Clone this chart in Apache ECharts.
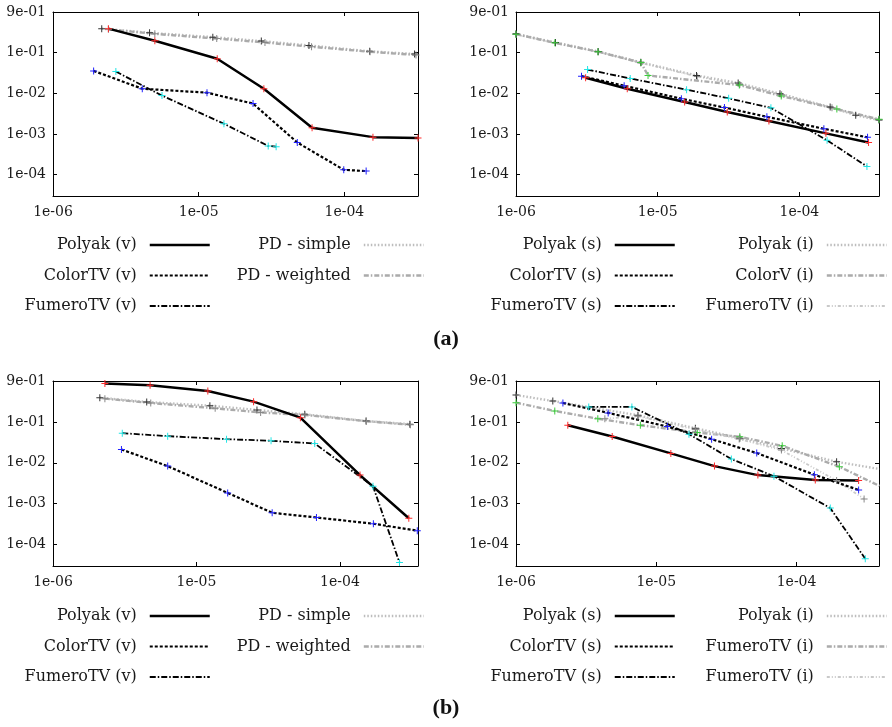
<!DOCTYPE html>
<html>
<head>
<meta charset="utf-8">
<title>convergence</title>
<script src="https://cdn.jsdelivr.net/npm/echarts@6/dist/echarts.min.js"></script>
<style>
  html, body { margin: 0; padding: 0; background: #fff; }
  #chart { width: 892px; height: 727px; }
</style>
</head>
<body>
<div id="chart"></div>
<script>
// (a) left panel
var aPolyakV = [[2.4e-6, 0.39], [5.0e-6, 0.196], [1.34e-5, 0.071], [2.8e-5, 0.013], [6.0e-5, 1.43e-3], [1.57e-4, 8.4e-4], [3.2e-4, 8.0e-4]];
var aColorV = [[1.9e-6, 0.0357], [4.1e-6, 0.013], [1.14e-5, 0.0104], [2.36e-5, 0.0056], [4.75e-5, 6.2e-4], [9.9e-5, 1.32e-4], [1.41e-4, 1.23e-4]];
var aFumeroV = [[2.7e-6, 0.0344], [5.6e-6, 8.8e-3], [1.49e-5, 1.79e-3], [3.0e-5, 5.1e-4], [3.4e-5, 4.9e-4]];
var aPdSimple = [[2.16e-6, 0.39], [4.6e-6, 0.308], [1.25e-5, 0.241], [2.69e-5, 0.193], [5.71e-5, 0.151], [1.49e-4, 0.108], [3.03e-4, 0.093]];
var aPdWeighted = [[2.4e-6, 0.375], [5.0e-6, 0.29], [1.33e-5, 0.222], [2.85e-5, 0.178], [5.95e-5, 0.14], [1.5e-4, 0.105], [3.1e-4, 0.088]];

// (a) right panel
var aPolyakS = [[3.1e-6, 0.0241], [6.1e-6, 0.013], [1.55e-5, 6.15e-3], [3.1e-5, 3.5e-3], [6.1e-5, 2.1e-3], [1.54e-4, 1.04e-3], [3.08e-4, 6.2e-4]];
var aColorS = [[2.9e-6, 0.0265], [5.8e-6, 0.0154], [1.47e-5, 7.4e-3], [2.96e-5, 4.5e-3], [5.9e-5, 2.65e-3], [1.49e-4, 1.35e-3], [3.03e-4, 8.3e-4]];
var aFumeroS = [[3.2e-6, 0.0385], [6.4e-6, 0.0232], [1.6e-5, 0.0123], [3.17e-5, 7.55e-3], [6.3e-5, 4.4e-3], [1.57e-4, 7.0e-4], [3.0e-4, 1.6e-4]];
var aPolyakI = [[1e-6, 0.29], [1.9e-6, 0.178], [3.8e-6, 0.107], [7.6e-6, 0.058], [1.88e-5, 0.0275], [3.7e-5, 0.018], [7.3e-5, 9.8e-3], [1.65e-4, 4.6e-3], [2.5e-4, 2.9e-3], [3.65e-4, 2.2e-3]];
var aColorVI = [[1e-6, 0.285], [1.88e-6, 0.175], [3.79e-6, 0.106], [7.62e-6, 0.057], [8.55e-6, 0.0275], [3.77e-5, 0.016], [7.45e-5, 8.6e-3], [1.84e-4, 4.1e-3], [3.65e-4, 2.3e-3]];
var aFumeroI = [[1e-6, 0.28], [1.9e-6, 0.172], [3.8e-6, 0.104], [7.6e-6, 0.056], [1.9e-5, 0.026], [3.8e-5, 0.0165], [7.5e-5, 9.2e-3], [1.7e-4, 4.4e-3], [3.65e-4, 2.25e-3]];

// (b) left panel
var bPolyakV = [[2.3e-6, 0.87], [4.75e-6, 0.79], [1.2e-5, 0.567], [2.5e-5, 0.313], [5.3e-5, 0.127], [1.38e-4, 5.0e-3], [3.02e-4, 4.4e-4]];
var bColorV = [[3.0e-6, 0.0212], [6.3e-6, 8.3e-3], [1.65e-5, 1.84e-3], [3.37e-5, 6.0e-4], [6.86e-5, 4.6e-4], [1.71e-4, 3.24e-4], [3.46e-4, 2.19e-4]];
var bFumeroV = [[3.04e-6, 0.053], [6.3e-6, 0.0448], [1.62e-5, 0.0379], [3.31e-5, 0.0345], [6.67e-5, 0.0297], [1.7e-4, 2.67e-3], [2.6e-4, 3.64e-5]];
var bPdSimple = [[2.12e-6, 0.391], [4.5e-6, 0.307], [1.24e-5, 0.249], [2.64e-5, 0.196], [5.68e-5, 0.154], [1.52e-4, 0.105], [3.07e-4, 0.088]];
var bPdWeighted = [[2.3e-6, 0.37], [4.8e-6, 0.29], [1.35e-5, 0.215], [2.8e-5, 0.17], [5.7e-5, 0.148], [1.53e-4, 0.104], [3.1e-4, 0.085]];

// (b) right panel
var bPolyakS = [[2.34e-6, 0.083], [4.85e-6, 0.044], [1.27e-5, 0.017], [2.6e-5, 8.3e-3], [5.3e-5, 5.0e-3], [1.36e-4, 3.8e-3], [2.77e-4, 3.67e-3]];
var bColorS = [[2.16e-6, 0.29], [4.54e-6, 0.166], [1.2e-5, 0.077], [2.48e-5, 0.0379], [5.2e-5, 0.0173], [1.34e-4, 5.1e-3], [2.77e-4, 2.17e-3]];
var bFumeroS = [[3.3e-6, 0.232], [6.7e-6, 0.232], [1.71e-5, 0.0501], [3.43e-5, 0.0124], [6.9e-5, 4.7e-3], [1.74e-4, 7.8e-4], [3.09e-4, 4.5e-5]];
var bPolyakI = [[1e-6, 0.454], [1.83e-6, 0.324], [7.4e-6, 0.145], [1.9e-5, 0.07], [3.94e-5, 0.04], [7.8e-5, 0.0225], [1.93e-4, 0.0106], [3.9e-4, 7.05e-3]];
var bFumeroI1 = [[1e-6, 0.295], [1.89e-6, 0.185], [3.83e-6, 0.12], [7.7e-6, 0.083], [1.96e-5, 0.055], [3.94e-5, 0.0431], [7.9e-5, 0.026], [2.02e-4, 8.0e-3], [3.9e-4, 2.72e-3]];
var bFumeroI2 = [[4.3e-6, 0.12], [7.4e-6, 0.137], [1.9e-5, 0.065], [3.9e-5, 0.038], [7.8e-5, 0.0205], [1.93e-4, 3.67e-3], [3.03e-4, 1.31e-3]];

var xMin = 1e-6;
var xMax = [3.2e-4, 3.65e-4, 3.5e-4, 3.87e-4];
var yMin = 3e-5;
var yMax = 1;

var grids = [
    {left: 53, top: 12, width: 365, height: 184},
    {left: 516, top: 12, width: 363, height: 184},
    {left: 53, top: 381, width: 365, height: 185},
    {left: 516, top: 381, width: 363, height: 185}
];

var plus = 'path://M3,0h1v3h3v1h-3v3h-1v-3h-3v-1h3z';
var font = 'DejaVu Serif';

var styles = {
    polyak:   {color: '#000', width: 2.5, dash: 'solid', mark: '#ff2a2a'},
    color:    {color: '#000', width: 2.2, dash: [3, 2], mark: '#2020ff'},
    fumero:   {color: '#000', width: 1.8, dash: [6, 2, 1.5, 2], mark: '#22e6e6'},
    pdSimple: {color: '#bdbdbd', width: 2.4, dash: [1.5, 2], mark: '#333'},
    pdWeight: {color: '#ababab', width: 2.4, dash: [5, 2, 1.5, 2], mark: '#888'},
    greenDd:  {color: '#ababab', width: 2.4, dash: [5, 2, 1.5, 2], mark: '#3ccc3c'},
    lightDd:  {color: '#c9c9c9', width: 1.8, dash: [3, 2, 1, 2, 1, 2], mark: '#8a8a8a'}
};

function expLabel(v) {
    var l = Math.log10(v);
    var e = Math.round(l);
    if (Math.abs(l - e) > 1e-6) return '';
    if (e === 0) return '9e-01';
    var n = Math.abs(e);
    return '1e' + (e < 0 ? '-' : '+') + (n < 10 ? '0' + n : n);
}

function line(label, tag, data, g, st) {
    return {
        name: label + '|' + tag,
        type: 'line',
        xAxisIndex: g * 2,
        yAxisIndex: g * 2,
        data: data,
        symbol: plus,
        symbolSize: 7,
        itemStyle: {color: st.mark},
        lineStyle: {color: st.color, width: st.width, type: st.dash},
        emphasis: {disabled: true}
    };
}

function legend(names, right, top) {
    return {
        orient: 'vertical',
        align: 'right',
        right: right,
        top: top,
        padding: 0,
        itemWidth: 60,
        itemHeight: 14,
        itemGap: 14.5,
        data: names,
        formatter: function (n) { return n.split('|')[0]; },
        itemStyle: {opacity: 0},
        lineStyle: {width: 'inherit'},
        textStyle: {fontFamily: font, fontSize: 16, color: '#1a1a1a', lineHeight: 16, padding: [0, 8, 0, 0]}
    };
}

var xAxes = [], yAxes = [];
grids.forEach(function (g, i) {
    var tick = {show: true, inside: true, length: 4, lineStyle: {color: '#000'}};
    var axLine = {show: true, lineStyle: {color: '#000', width: 1}};
    xAxes.push({
        type: 'log', gridIndex: i, position: 'bottom', min: xMin, max: xMax[i],
        axisLine: axLine, axisTick: tick, splitLine: {show: false},
        axisLabel: {formatter: expLabel, fontFamily: font, fontSize: 14, color: '#1a1a1a', margin: 9}
    });
    xAxes.push({
        type: 'log', gridIndex: i, position: 'top', min: xMin, max: xMax[i],
        axisLine: axLine, axisTick: tick, splitLine: {show: false}, axisLabel: {show: false}
    });
    yAxes.push({
        type: 'log', gridIndex: i, position: 'left', min: yMin, max: yMax,
        axisLine: axLine, axisTick: tick, splitLine: {show: false},
        axisLabel: {formatter: expLabel, fontFamily: font, fontSize: 14, color: '#1a1a1a', margin: 7}
    });
    yAxes.push({
        type: 'log', gridIndex: i, position: 'right', min: yMin, max: yMax,
        axisLine: axLine, axisTick: tick, splitLine: {show: false}, axisLabel: {show: false}
    });
});

var series = [
    line('PD - simple', 'al', aPdSimple, 0, styles.pdSimple),
    line('PD - weighted', 'al', aPdWeighted, 0, styles.pdWeight),
    line('FumeroTV (v)', 'al', aFumeroV, 0, styles.fumero),
    line('ColorTV (v)', 'al', aColorV, 0, styles.color),
    line('Polyak (v)', 'al', aPolyakV, 0, styles.polyak),

    line('FumeroTV (i)', 'ar', aFumeroI, 1, styles.lightDd),
    line('Polyak (i)', 'ar', aPolyakI, 1, styles.pdSimple),
    line('ColorV (i)', 'ar', aColorVI, 1, styles.greenDd),
    line('FumeroTV (s)', 'ar', aFumeroS, 1, styles.fumero),
    line('ColorTV (s)', 'ar', aColorS, 1, styles.color),
    line('Polyak (s)', 'ar', aPolyakS, 1, styles.polyak),

    line('PD - simple', 'bl', bPdSimple, 2, styles.pdSimple),
    line('PD - weighted', 'bl', bPdWeighted, 2, styles.pdWeight),
    line('FumeroTV (v)', 'bl', bFumeroV, 2, styles.fumero),
    line('ColorTV (v)', 'bl', bColorV, 2, styles.color),
    line('Polyak (v)', 'bl', bPolyakV, 2, styles.polyak),

    line('Polyak (i)', 'br', bPolyakI, 3, styles.pdSimple),
    line('FumeroTV (i)', 'br1', bFumeroI1, 3, styles.greenDd),
    line('FumeroTV (i)', 'br2', bFumeroI2, 3, styles.lightDd),
    line('FumeroTV (s)', 'br', bFumeroS, 3, styles.fumero),
    line('ColorTV (s)', 'br', bColorS, 3, styles.color),
    line('Polyak (s)', 'br', bPolyakS, 3, styles.polyak)
];

var legends = [
    legend(['Polyak (v)|al', 'ColorTV (v)|al', 'FumeroTV (v)|al'], 681, 237),
    legend(['PD - simple|al', 'PD - weighted|al'], 467, 237),
    legend(['Polyak (s)|ar', 'ColorTV (s)|ar', 'FumeroTV (s)|ar'], 216, 237),
    legend(['Polyak (i)|ar', 'ColorV (i)|ar', 'FumeroTV (i)|ar'], 4, 237),
    legend(['Polyak (v)|bl', 'ColorTV (v)|bl', 'FumeroTV (v)|bl'], 681, 608),
    legend(['PD - simple|bl', 'PD - weighted|bl'], 467, 608),
    legend(['Polyak (s)|br', 'ColorTV (s)|br', 'FumeroTV (s)|br'], 216, 608),
    legend(['Polyak (i)|br', 'FumeroTV (i)|br1', 'FumeroTV (i)|br2'], 4, 608)
];

var titleFont = {fontFamily: 'Liberation Serif', fontWeight: 'bold', fontSize: 22, color: '#111'};

var option = {
    animation: false,
    backgroundColor: '#fff',
    title: [
        {text: '(a)', left: 'center', top: 328, padding: 0, textStyle: titleFont},
        {text: '(b)', left: 'center', top: 697, padding: 0, textStyle: titleFont}
    ],
    grid: grids.map(function (g) {
        return {left: g.left, top: g.top, width: g.width, height: g.height, containLabel: false, outerBoundsMode: 'none'};
    }),
    xAxis: xAxes,
    yAxis: yAxes,
    legend: legends,
    series: series
};

var chart = echarts.init(document.getElementById('chart'));
chart.setOption(option);
</script>
</body>
</html>
